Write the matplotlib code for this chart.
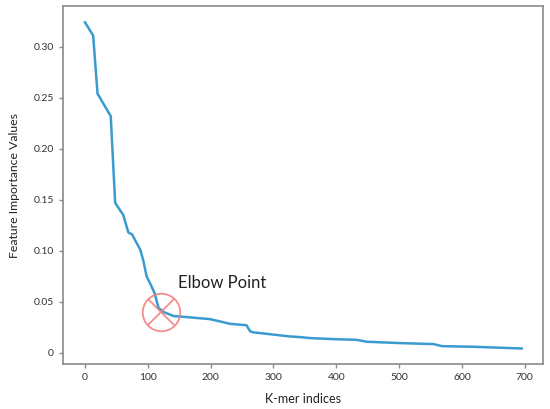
import matplotlib.pyplot as plt

# Values
kmer_idx = [0, 13, 20, 41, 48, 61, 69, 75, 88, 93, 98, 106, 111, 117, 125, 141,
            162, 199, 231, 257, 263, 268, 289, 326, 342, 358, 395, 432, 449, 502,
            555, 568, 618, 695]
importance = [0.324, 0.311, 0.254, 0.232, 0.147, 0.135, 0.118, 0.116, 0.101, 0.090,
              0.075, 0.065, 0.058, 0.044, 0.040, 0.036, 0.035, 0.033, 0.0284, 0.027,
              0.021, 0.020, 0.0186, 0.016, 0.0154, 0.0144, 0.0134, 0.0127, 0.0108,
              0.0095, 0.0085, 0.0065, 0.0059, 0.0042]

elbow_x = [121]
elbow_y = [0.040]

xticks = [0, 100, 200, 300, 400, 500, 600, 700]
yticks = [0, 0.05, 0.10, 0.15, 0.20, 0.25, 0.30]
ytick_labels = ['0', '0.05', '0.10', '0.15', '0.20', '0.25', '0.30']

plt.rcParams['font.family'] = ['Lato', 'DejaVu Sans']

fig = plt.figure(figsize=(5.5, 4.09), dpi=100)
ax = fig.add_axes([63 / 550, 1 - 364 / 409, 480 / 550, 358 / 409])

ax.plot(kmer_idx, importance, color='#3a9bcf', linewidth=1.8, solid_joinstyle='round')

# Elbow marker: circle with a cross
ax.plot(elbow_x, elbow_y, marker='o', markersize=27, markerfacecolor='none',
        markeredgecolor='#f07a7a', markeredgewidth=1.3, alpha=0.85, linestyle='none')
ax.plot(elbow_x, elbow_y, marker='x', markersize=19, markeredgecolor='#f07a7a',
        markeredgewidth=1.3, alpha=0.85, linestyle='none')
ax.annotate('Elbow Point', xy=(elbow_x[0], elbow_y[0]), xytext=(12, 21),
            textcoords='offset points', fontsize=12, color='#222222', va='center')

ax.set_xlim(-35, 729)
ax.set_ylim(-0.011, 0.340)
ax.set_xticks(xticks)
ax.set_yticks(yticks)
ax.set_yticklabels(ytick_labels)

for sp in ax.spines.values():
    sp.set_color('#8a8a8a')
    sp.set_linewidth(1.2)
ax.tick_params(colors='#8a8a8a', labelcolor='#333333', labelsize=7.5, length=3, width=1)

ax.set_xlabel('K-mer indices', fontsize=9, color='#222222', labelpad=8)
ax.set_ylabel('Feature Importance Values', fontsize=8.8, color='#222222', labelpad=10)

fig.savefig('out.png', dpi=100)
